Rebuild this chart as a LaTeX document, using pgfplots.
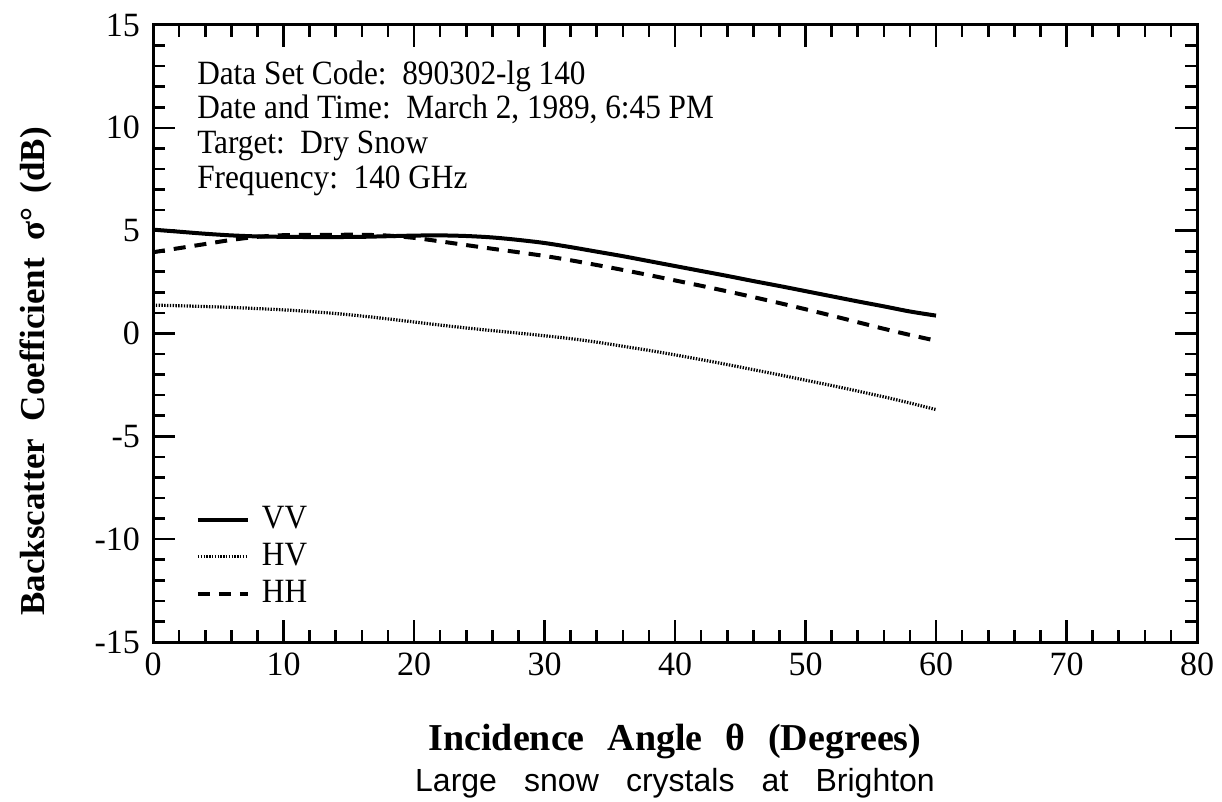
\documentclass[border=0pt]{standalone}
\usepackage{fontspec}
\setmainfont{Liberation Serif}
\setsansfont{Liberation Sans}
\newfontfamily\condserif[FakeStretch=0.92]{Liberation Serif}
\usepackage{pgfplots}
\pgfplotsset{compat=1.18}
\begin{document}
\begin{tikzpicture}
\begin{axis}[
  scale only axis, width=522pt, height=308.5pt,
  xmin=0, xmax=80, ymin=-15, ymax=15,
  xtick={0,10,...,80}, ytick={-15,-10,...,15},
  minor x tick num=4, minor y tick num=4,
  tick align=inside, tick pos=both,
  major tick length=10.8pt, minor tick length=5.8pt,
  every tick/.style={black, line width=1.3pt},
  axis line style={line width=1.5pt},
  /pgf/number format/assume math mode=true,
  tick label style={font=\fontsize{17}{19}\selectfont},
  yticklabel style={xshift=-3pt},
  xticklabel style={yshift=-2pt},
  legend style={draw=none, fill=none, at={(rel axis cs:0.035,0.233)}, anchor=north west,
    font=\condserif\fontsize{17}{19}\selectfont, row sep=1.5pt, column sep=5pt,
    nodes={inner sep=1pt, text height=12pt, text depth=3pt}},
  legend cell align=left,
  legend image code/.code={\draw[#1] (0pt,0pt) -- (25pt,0pt);},
]
\addplot[black, line width=2pt, smooth] coordinates {
(0,5.05) (2,4.95) (4,4.85) (6,4.77) (8,4.72) (10,4.70) (12,4.69) (14,4.69) (16,4.70) (18,4.73) (20,4.76) (22,4.77) (24,4.74) (26,4.67) (28,4.55) (30,4.40) (32,4.20) (34,3.98) (36,3.76) (38,3.52) (40,3.28) (42,3.04) (44,2.80) (46,2.55) (48,2.31) (50,2.06) (52,1.81) (54,1.56) (56,1.32) (58,1.07) (60,0.87)};
\addlegendentry{VV}
\addplot[black, line width=1.6pt, dash pattern=on 0.7pt off 0.7pt, smooth] coordinates {
(0,1.38) (2,1.35) (4,1.31) (6,1.27) (8,1.21) (10,1.15) (12,1.07) (14,0.97) (16,0.85) (18,0.71) (20,0.56) (22,0.41) (24,0.27) (26,0.14) (28,0.02) (30,-0.11) (32,-0.25) (34,-0.42) (36,-0.62) (38,-0.82) (40,-1.04) (42,-1.27) (44,-1.51) (46,-1.76) (48,-2.01) (50,-2.27) (52,-2.53) (54,-2.80) (56,-3.08) (58,-3.38) (60,-3.70)};
\addlegendentry{HV}
\addplot[black, line width=2pt, dash pattern=on 6pt off 4.5pt, smooth] coordinates {
(0,3.95) (2,4.15) (4,4.35) (6,4.55) (8,4.70) (10,4.78) (12,4.80) (14,4.80) (16,4.80) (18,4.76) (20,4.65) (22,4.48) (24,4.30) (26,4.12) (28,3.95) (30,3.77) (32,3.56) (34,3.33) (36,3.09) (38,2.84) (40,2.58) (42,2.32) (44,2.05) (46,1.77) (48,1.48) (50,1.18) (52,0.87) (54,0.55) (56,0.23) (58,-0.07) (60,-0.35)};
\addlegendentry{HH}
\coordinate (sw) at (rel axis cs:0,0);
\coordinate (ne) at (rel axis cs:1,1);
\coordinate (ann) at (rel axis cs:0.042,0.904);
\end{axis}
\begin{scope}[every node/.style={font=\condserif\fontsize{17}{19}\selectfont, anchor=base west, inner sep=0pt}]
\node at (ann) {Data Set Code:\ \ 890302-lg 140};
\node at ([yshift=-17.3pt]ann) {Date and Time:\ \ March 2, 1989, 6:45 PM};
\node at ([yshift=-34.6pt]ann) {Target:\ \ Dry Snow};
\node at ([yshift=-51.9pt]ann) {Frequency:\ \ 140 GHz};
\end{scope}
\path (sw) -- (ne) coordinate[pos=0.5] (mid);
\node[anchor=base, inner sep=0pt, font=\fontsize{19}{21}\selectfont\bfseries] at (mid |- sw) [yshift=-54pt]
  {Incidence\hspace{0.6em}Angle\hspace{0.6em}θ\hspace{0.6em}(Degrees)};
\node[anchor=base, inner sep=0pt, font=\sffamily\fontsize{16}{18}\selectfont] at (mid |- sw) [yshift=-74.5pt]
  {Large\hspace{0.85em}snow\hspace{0.85em}crystals\hspace{0.85em}at\hspace{0.85em}Brighton};
\coordinate (ylab) at ([xshift=-54pt,yshift=13pt]sw);
\node[anchor=base west, rotate=90, inner sep=0pt, font=\fontsize{17.5}{20}\selectfont\bfseries] at (ylab)
  {Backscatter\hspace{0.5em}Coefficient\hspace{0.5em}σ°\hspace{0.4em}(dB)};
\pgfresetboundingbox
\path ([shift={(-76.5pt,-79.5pt)}]sw) rectangle ([shift={(12.5pt,12.5pt)}]ne);
\end{tikzpicture}
\end{document}
